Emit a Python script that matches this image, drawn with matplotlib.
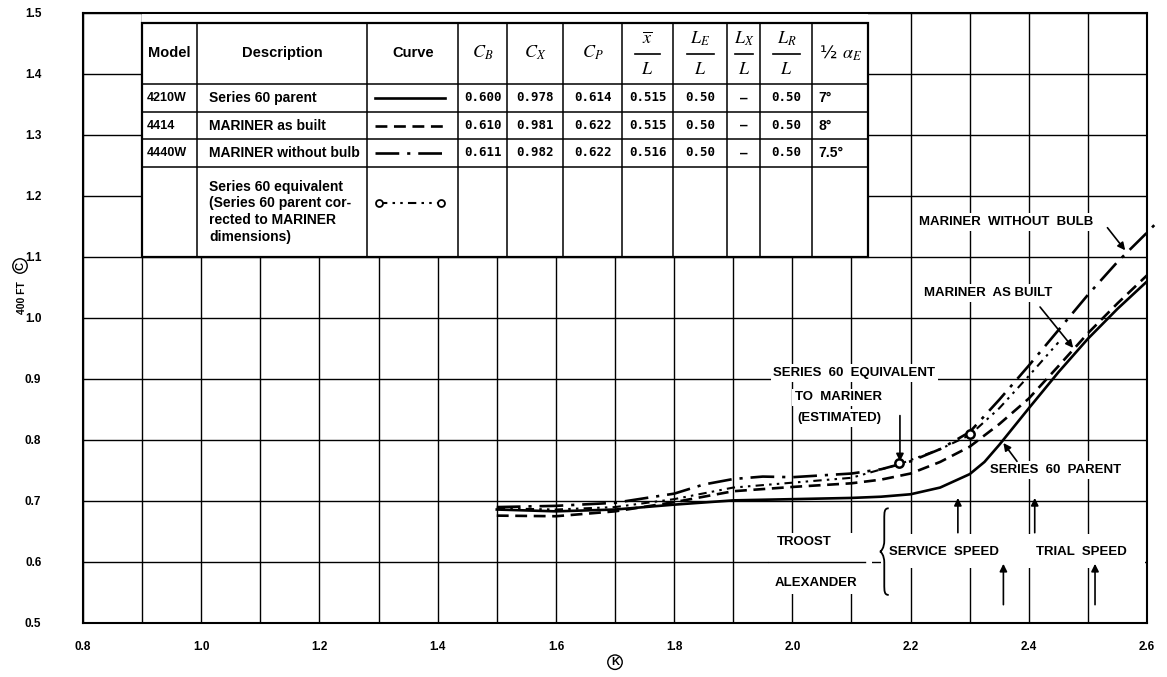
from matplotlib import pyplot as plt
from matplotlib import font_manager
from matplotlib.patches import Rectangle, PathPatch
from matplotlib.path import Path
import numpy as np

plt.rcParams['mathtext.fontset'] = 'stix'

names = {f.name for f in font_manager.fontManager.ttflist}
COND = 'Liberation Sans Narrow' if 'Liberation Sans Narrow' in names else 'Liberation Sans'
SANS = 'Liberation Sans'

# curves: K vs (C)400ft
k_parent = [1.50, 1.60, 1.70, 1.80, 1.90, 2.00, 2.10, 2.15, 2.20, 2.25, 2.30, 2.325, 2.35,
            2.375, 2.40, 2.45, 2.50, 2.55, 2.60]
c_parent = [0.686, 0.683, 0.686, 0.694, 0.701, 0.703, 0.705, 0.707, 0.711, 0.722, 0.744, 0.764,
            0.792, 0.822, 0.852, 0.911, 0.966, 1.015, 1.060]

k_built = [1.50, 1.60, 1.70, 1.80, 1.90, 2.00, 2.10, 2.15, 2.20, 2.25, 2.30, 2.35, 2.40,
           2.45, 2.50, 2.55, 2.60]
c_built = [0.676, 0.675, 0.683, 0.698, 0.716, 0.723, 0.729, 0.735, 0.745, 0.764, 0.789, 0.826,
           0.868, 0.921, 0.975, 1.024, 1.070]

k_nobulb = [1.50, 1.60, 1.70, 1.80, 1.85, 1.90, 1.95, 2.00, 2.10, 2.15, 2.20, 2.25, 2.30,
            2.35, 2.40, 2.45, 2.50, 2.55, 2.60, 2.62]
c_nobulb = [0.690, 0.692, 0.697, 0.712, 0.727, 0.736, 0.740, 0.739, 0.745, 0.752, 0.765, 0.785,
            0.813, 0.866, 0.922, 0.980, 1.038, 1.092, 1.140, 1.160]

k_equiv = [1.50, 1.60, 1.70, 1.80, 1.90, 2.00, 2.10, 2.18, 2.25, 2.30, 2.35, 2.40, 2.45]
c_equiv = [0.688, 0.686, 0.690, 0.703, 0.722, 0.730, 0.738, 0.760, 0.785, 0.808, 0.852, 0.905,
           0.960]
k_equiv_marks = [2.18, 2.30]
c_equiv_marks = [0.762, 0.810]

# speed marks (K) for Troost and Alexander
troost_k = [2.28, 2.41]
alexander_k = [2.357, 2.512]

x_ticks = [0.8, 1.0, 1.2, 1.4, 1.6, 1.8, 2.0, 2.2, 2.4, 2.6]
y_ticks = [0.5, 0.6, 0.7, 0.8, 0.9, 1.0, 1.1, 1.2, 1.3, 1.4, 1.5]

# table
col_edges = [0.900, 0.993, 1.281, 1.435, 1.517, 1.612, 1.712, 1.798, 1.890, 1.946, 2.034, 2.128]
row_edges = [1.484, 1.384, 1.338, 1.293, 1.248, 1.100]
headers = ['Model', 'Description', 'Curve', r'$C_B$', r'$C_X$', r'$C_P$',
           None, None, None, None, r'½ $\alpha_E$']
frac_num = [r'$\overline{x}$', r'$L_E$', r'$L_X$', r'$L_R$']
frac_den = [r'$L$', r'$L$', r'$L$', r'$L$']
frac_bar = [0.042, 0.046, 0.030, 0.047]
models = ['4210W', '4414', '4440W']
descriptions = ['Series 60 parent', 'MARINER as built', 'MARINER without bulb']
cb = ['0.600', '0.610', '0.611']
cx = ['0.978', '0.981', '0.982']
cp = ['0.614', '0.622', '0.622']
xl = ['0.515', '0.515', '0.516']
le = ['0.50', '0.50', '0.50']
lx = ['—', '—', '—']
lr = ['0.50', '0.50', '0.50']
half_angle = ['7°', '8°', '7.5°']
equiv_desc = 'Series 60 equivalent\n(Series 60 parent cor-\nrected to MARINER\ndimensions)'

styles = {
    'parent': dict(ls='-', lw=1.9),
    'built': dict(ls=(0, (4.5, 2.5)), lw=1.9),
    'nobulb': dict(ls=(0, (9, 3, 1.2, 3)), lw=1.9),
    'equiv': dict(ls=(0, (4, 2.5, 1.2, 2.5, 1.2, 2.5)), lw=1.5),
}

fig = plt.figure(figsize=(11.67, 6.77), dpi=100)
ax = fig.add_axes([0.0711, 0.0798, 0.9118, 0.9010])
ax.set_xlim(0.8, 2.6)
ax.set_ylim(0.5, 1.5)

ax.set_axisbelow(True)
ax.set_xticks(x_ticks)
ax.set_xticks(np.arange(0.8, 2.61, 0.1), minor=True)
ax.set_yticks(y_ticks)
ax.grid(True, which='both', color='black', lw=1.0, zorder=0.5)
ax.set_xticklabels(['%.1f' % v for v in x_ticks], fontsize=8.5, fontweight='bold', family=SANS)
ax.set_yticklabels(['%.1f' % v for v in y_ticks], fontsize=8.5, fontweight='bold', family=SANS)
ax.tick_params(which='both', length=0)
ax.tick_params(axis='x', pad=13)
ax.tick_params(axis='y', pad=30)
for s in ax.spines.values():
    s.set_linewidth(1.5)
    s.set_zorder(5)

ax.set_xlabel('K', fontsize=8, fontweight='bold', family=SANS, labelpad=3,
              bbox=dict(boxstyle='circle,pad=0.2', fc='white', ec='black', lw=1))
fig.text(20 / 1167, 1 - 266 / 677, 'C', rotation=90, fontsize=8, fontweight='bold',
         family=SANS, ha='center', va='center',
         bbox=dict(boxstyle='circle,pad=0.2', fc='white', ec='black', lw=1))
fig.text(22 / 1167, 1 - 298 / 677, '400 FT', rotation=90, fontsize=7.5, fontweight='bold',
         family=SANS, ha='center', va='center')

# curves
ax.plot(k_parent, c_parent, color='black', zorder=3, **styles['parent'])
ax.plot(k_built, c_built, color='black', zorder=3, **styles['built'])
ax.plot(k_nobulb, c_nobulb, color='black', zorder=3, clip_on=False, **styles['nobulb'])
ax.plot(k_equiv, c_equiv, color='black', zorder=3, **styles['equiv'])
ax.plot(k_equiv_marks, c_equiv_marks, 'o', ms=6, mfc='white', mec='black', mew=1.8, zorder=4)

# table
ax.add_patch(Rectangle((col_edges[0], row_edges[-1]), col_edges[-1] - col_edges[0],
                       1.5 - row_edges[-1], fc='white', ec='none', zorder=1.5))
ax.add_patch(Rectangle((col_edges[0], row_edges[-1]), col_edges[-1] - col_edges[0],
                       row_edges[0] - row_edges[-1], fc='none', ec='black', lw=1.6, zorder=2))
for x in col_edges[1:-1]:
    ax.plot([x, x], [row_edges[-1], row_edges[0]], color='black', lw=1.1, zorder=2)
for y in row_edges[1:-1]:
    ax.plot([col_edges[0], col_edges[-1]], [y, y], color='black', lw=1.1, zorder=2)

mids = [(a + b) / 2 for a, b in zip(col_edges[:-1], col_edges[1:])]
rmids = [(a + b) / 2 for a, b in zip(row_edges[:-1], row_edges[1:])]
for i, h in enumerate(headers):
    if h is None:
        continue
    if h.startswith('$') or h.startswith('½'):
        ax.text(mids[i], rmids[0], h, ha='center', va='center', fontsize=13, zorder=3)
    else:
        ax.text(mids[i], rmids[0], h, ha='center', va='center', fontsize=10.5,
                fontweight='bold', family=COND, zorder=3)
for j in range(4):
    xc = mids[6 + j]
    ax.text(xc, rmids[0] + 0.024, frac_num[j], ha='center', va='center', fontsize=13, zorder=3)
    ax.text(xc, rmids[0] - 0.026, frac_den[j], ha='center', va='center', fontsize=13, zorder=3)
    ax.plot([xc - frac_bar[j] / 2, xc + frac_bar[j] / 2], [rmids[0] - 0.002] * 2,
            color='black', lw=1.2, zorder=3)
for r in range(3):
    y = rmids[r + 1]
    ax.text(col_edges[0] + 0.008, y, models[r], ha='left', va='center', fontsize=9,
            fontweight='bold', family=COND, zorder=3)
    ax.text(col_edges[1] + 0.02, y, descriptions[r], ha='left', va='center', fontsize=10,
            fontweight='bold', family=COND, zorder=3)
    vals = [cb[r], cx[r], cp[r], xl[r], le[r], lx[r], lr[r]]
    for j, v in enumerate(vals):
        ax.text(mids[3 + j], y, v, ha='center', va='center', fontsize=9,
                fontweight='bold', family='DejaVu Sans Mono', zorder=3)
    ax.text(col_edges[10] + 0.01, y, half_angle[r], ha='left', va='center', fontsize=10,
            fontweight='bold', family=COND, zorder=3)
ax.text(col_edges[1] + 0.02, rmids[4], equiv_desc, ha='left', va='center', fontsize=10,
        fontweight='bold', family=COND, linespacing=1.25, zorder=3)

# curve samples in table
leg_k = [1.294, 1.412]
for r, key in enumerate(['parent', 'built', 'nobulb']):
    ax.plot(leg_k, [rmids[r + 1]] * 2, color='black', zorder=3, **styles[key])
ax.plot([1.30, 1.405], [1.189] * 2, color='black', marker='o', ms=5, mfc='white',
        mec='black', mew=1.3, zorder=3, **styles['equiv'])

# text labels
lab = dict(fontsize=9.5, fontweight='bold', family=SANS, ha='center', va='center', zorder=4)
wb = dict(fc='white', ec='none', pad=2)
ax.text(2.362, 1.157, 'MARINER  WITHOUT  BULB', bbox=wb, **lab)
ax.text(2.331, 1.041, 'MARINER  AS BUILT', bbox=wb, **lab)
ax.text(2.446, 0.751, 'SERIES  60  PARENT', bbox=wb, **lab)
ax.text(2.105, 0.910, 'SERIES  60  EQUIVALENT', bbox=wb, **lab)
ax.text(2.078, 0.870, 'TO  MARINER', bbox=wb, **lab)
ax.text(2.080, 0.836, '(ESTIMATED)', bbox=wb, **lab)

arr = dict(arrowstyle='-|>', color='black', lw=1.2, mutation_scale=11, shrinkA=0, shrinkB=0)
ax.annotate('', xy=(2.563, 1.111), xytext=(2.533, 1.148), arrowprops=arr, zorder=4)
ax.annotate('', xy=(2.475, 0.951), xytext=(2.419, 1.018), arrowprops=arr, zorder=4)
ax.annotate('', xy=(2.357, 0.795), xytext=(2.38, 0.765), arrowprops=arr, zorder=4)
ax.annotate('', xy=(2.182, 0.765), xytext=(2.182, 0.840), arrowprops=arr, zorder=4)

# speed marks
ax.add_patch(Rectangle((1.96, 0.548), 0.175, 0.100, fc='white', ec='none', zorder=1.5))
ax.add_patch(Rectangle((2.15, 0.590), 0.447, 0.056, fc='white', ec='none', zorder=1.5))
ax.plot([1.96, 2.123], [0.6, 0.6], color='black', lw=1.0, zorder=1.6)
ax.text(2.02, 0.633, 'TROOST', **lab)
ax.text(2.04, 0.566, 'ALEXANDER', **lab)
ax.text(2.257, 0.616, 'SERVICE  SPEED', **lab)
ax.text(2.489, 0.616, 'TRIAL  SPEED', **lab)
for k in troost_k:
    ax.annotate('', xy=(k, 0.705), xytext=(k, 0.648), arrowprops=arr, zorder=4)
for k in alexander_k:
    ax.annotate('', xy=(k, 0.597), xytext=(k, 0.530), arrowprops=arr, zorder=4)

# brace
x0, x1, ym, yt, yb = 2.148, 2.163, 0.617, 0.688, 0.546
xm = (x0 + x1) / 2
verts = [(x1, yt), (xm, yt), (xm, yt - 0.006), (xm, yt - 0.018),
         (xm, ym + 0.018),
         (xm, ym + 0.006), (x0 + 0.002, ym), (x0, ym),
         (x0 + 0.002, ym), (xm, ym - 0.006), (xm, ym - 0.018),
         (xm, yb + 0.018),
         (xm, yb + 0.006), (xm, yb), (x1, yb)]
codes = [Path.MOVETO, Path.CURVE4, Path.CURVE4, Path.CURVE4, Path.LINETO,
         Path.CURVE4, Path.CURVE4, Path.CURVE4, Path.CURVE4, Path.CURVE4, Path.CURVE4,
         Path.LINETO, Path.CURVE4, Path.CURVE4, Path.CURVE4]
ax.add_patch(PathPatch(Path(verts, codes), fc='none', ec='black', lw=1.3, zorder=4))

fig.savefig('out.png', dpi=100)
